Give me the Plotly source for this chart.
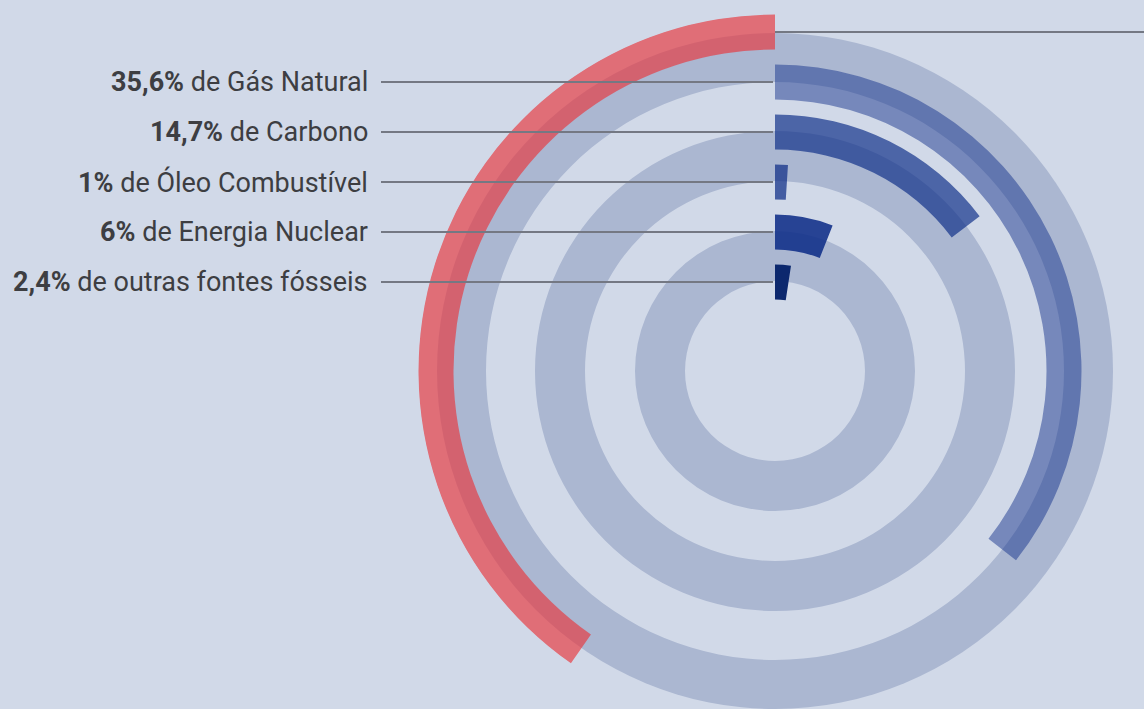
import plotly.graph_objects as go

# energy mix (%); the first source's label sits outside the visible area
sources = ["fontes renováveis", "Gás Natural", "Carbono", "Óleo Combustível",
           "Energia Nuclear", "outras fontes fósseis"]
shares = [40.3, 35.6, 14.7, 1, 6, 2.4]
share_labels = ["40,3%", "35,6%", "14,7%", "1%", "6%", "2,4%"]

W, H = 1144, 709
cx, cy = 775, 371          # centre of the rings, px from top-left
R = 338                    # inner polar radius in px (1 radial unit = 1 px)
R_out = 357                # outer polar (only the first bar lives there)

bar_mid = [339, 289, 239, 189, 139, 89]   # radial centre of each bar
bar_thick = 35
track_base = [90, 190, 289]
track_thick = 50

bar_colors = ["rgba(232,55,60,0.66)", "rgba(14,45,135,0.47)",
              "rgba(14,45,135,0.68)", "rgba(14,45,135,0.72)",
              "rgba(14,45,135,0.87)", "rgba(12,40,110,1)"]

deg = [s * 3.6 for s in shares]

fig = go.Figure()

# background tracks
fig.add_trace(go.Barpolar(
    r=[track_thick] * len(track_base), base=track_base,
    theta=[180] * len(track_base), width=[360] * len(track_base),
    marker=dict(color="#abb7d1", line=dict(width=0)),
    hoverinfo="skip", showlegend=False))

# blue bars, clockwise from 12 o'clock
fig.add_trace(go.Barpolar(
    r=[bar_thick] * 5,
    base=[m - bar_thick / 2 for m in bar_mid[1:]],
    theta=[d / 2 for d in deg[1:]], width=deg[1:],
    marker=dict(color=bar_colors[1:], line=dict(width=0)),
    text=sources[1:], hovertemplate="%{text}<extra></extra>",
    showlegend=False))

# red bar, counter-clockwise from 12 o'clock, on its own (larger) polar
fig.add_trace(go.Barpolar(
    r=[bar_thick], base=[bar_mid[0] - bar_thick / 2],
    theta=[deg[0] / 2], width=[deg[0]],
    marker=dict(color=bar_colors[0], line=dict(width=0)),
    text=sources[:1], hovertemplate="%{text}<extra></extra>",
    subplot="polar2", showlegend=False))

# leader lines + labels
shapes, annotations = [], []
for i, m in enumerate(bar_mid):
    y = (H - cy + m) / H
    if i == 0:
        x0, x1 = cx / W, 1
    else:
        x0, x1 = 381 / W, 773 / W
    shapes.append(dict(type="line", xref="paper", yref="paper",
                       x0=x0, x1=x1, y0=y, y1=y,
                       line=dict(color="#747883", width=2)))
    if i == 0:
        continue
    annotations.append(dict(
        xref="paper", yref="paper", x=370 / W, y=y,
        xanchor="right", yanchor="middle", showarrow=False,
        text=f"<b>{share_labels[i]}</b> de {sources[i]}",
        font=dict(family="Roboto", size=27, color="#3d3e42")))

# the outer polar only covers the sector from 12 o'clock to ~8 o'clock
sec = [90, 240]
sec_low = 0.866  # -sin(240 deg)

fig.update_layout(
    width=W, height=H,
    margin=dict(l=0, r=0, t=0, b=0),
    paper_bgcolor="#d1d9e8", plot_bgcolor="#d1d9e8",
    polar=dict(
        domain=dict(x=[(cx - R) / W, (cx + R) / W], y=[0, 2 * R / H]),
        bgcolor="rgba(0,0,0,0)",
        barmode="overlay",
        radialaxis=dict(range=[0, R], visible=False),
        angularaxis=dict(rotation=90, direction="clockwise", visible=False),
    ),
    polar2=dict(
        sector=sec,
        domain=dict(x=[(cx - R_out) / W, cx / W],
                    y=[(H - cy - R_out * sec_low) / H, (H - cy + R_out) / H]),
        bgcolor="rgba(0,0,0,0)",
        barmode="overlay",
        radialaxis=dict(range=[0, R_out], visible=False),
        angularaxis=dict(rotation=90, direction="counterclockwise", visible=False),
    ),
    shapes=shapes,
    annotations=annotations,
)

fig.write_html("out.html", config={"displayModeBar": False},
               post_script="document.body.style.margin='0';"
                           "document.body.style.overflow='hidden';")
